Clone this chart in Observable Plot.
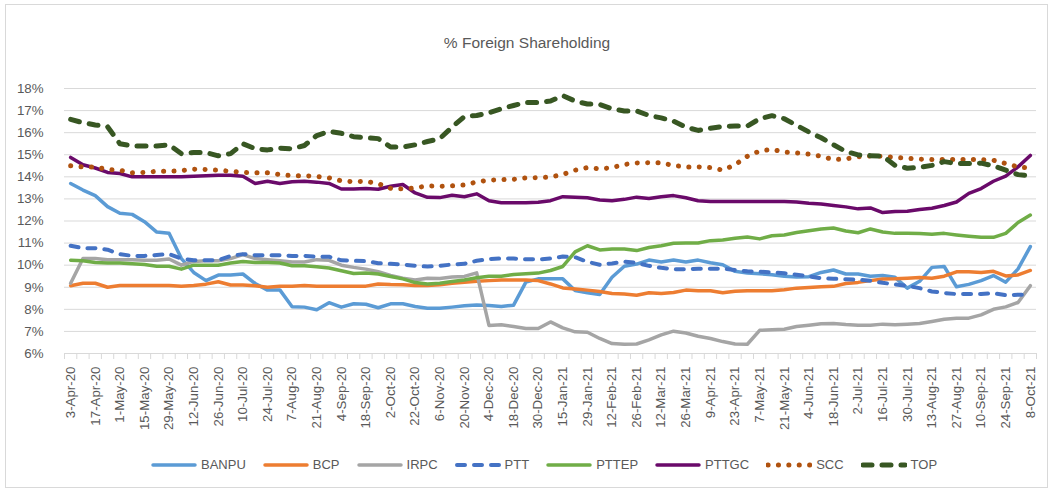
<!DOCTYPE html>
<html><head><meta charset="utf-8">
<script src="https://cdn.jsdelivr.net/npm/d3@7"></script>
<script src="https://cdn.jsdelivr.net/npm/@observablehq/plot@0.6"></script>
<style>
body{margin:0;background:#fff;}
#chart{position:relative;width:1054px;height:492px;font-family:"Liberation Sans",Arial,sans-serif;color:#595959;overflow:hidden;}
#frame{position:absolute;left:5px;top:4px;width:1043px;height:484px;border:1px solid #d9d9d9;box-sizing:border-box;}
#title{position:absolute;left:0;width:1054px;top:33px;text-align:center;font-size:15.5px;line-height:20px;}
#plot{position:absolute;left:0;top:70px;}
#legend{position:absolute;top:456px;left:151px;display:flex;align-items:center;font-size:13px;line-height:18px;}
.item{display:flex;align-items:center;margin-right:17px;}
.item svg{margin-right:4px;display:block;}
</style></head>
<body>
<div id="chart">
  <div id="frame"></div>
  <div id="title">% Foreign Shareholding</div>
  <div id="plot"></div>
  <div id="legend"></div>
</div>
<script>
const dates = ["3-Apr-20","10-Apr-20","17-Apr-20","24-Apr-20","1-May-20","8-May-20","15-May-20","22-May-20","29-May-20","5-Jun-20",
"12-Jun-20","19-Jun-20","26-Jun-20","3-Jul-20","10-Jul-20","17-Jul-20","24-Jul-20","31-Jul-20","7-Aug-20","14-Aug-20",
"21-Aug-20","28-Aug-20","4-Sep-20","11-Sep-20","18-Sep-20","25-Sep-20","2-Oct-20","16-Oct-20","22-Oct-20","30-Oct-20",
"6-Nov-20","13-Nov-20","20-Nov-20","27-Nov-20","4-Dec-20","11-Dec-20","18-Dec-20","25-Dec-20","30-Dec-20","8-Jan-21",
"15-Jan-21","22-Jan-21","29-Jan-21","5-Feb-21","12-Feb-21","19-Feb-21","26-Feb-21","5-Mar-21","12-Mar-21","19-Mar-21",
"26-Mar-21","2-Apr-21","9-Apr-21","16-Apr-21","23-Apr-21","30-Apr-21","7-May-21","14-May-21","21-May-21","28-May-21",
"4-Jun-21","11-Jun-21","18-Jun-21","25-Jun-21","2-Jul-21","9-Jul-21","16-Jul-21","23-Jul-21","30-Jul-21","6-Aug-21",
"13-Aug-21","20-Aug-21","27-Aug-21","3-Sep-21","10-Sep-21","17-Sep-21","24-Sep-21","1-Oct-21","8-Oct-21"];

const yTicks = [6,7,8,9,10,11,12,13,14,15,16,17,18];

const BANPU = [13.7,13.4,13.15,12.65,12.35,12.3,11.97,11.5,11.45,10.3,9.67,9.3,9.55,9.55,9.6,9.17,8.87,8.88,8.12,8.1,
7.98,8.3,8.1,8.25,8.23,8.07,8.25,8.25,8.13,8.05,8.05,8.1,8.16,8.2,8.17,8.13,8.19,9.23,9.38,9.38,
9.38,8.85,8.75,8.67,9.45,9.95,10.05,10.23,10.14,10.23,10.14,10.23,10.11,10.02,9.72,9.64,9.61,9.57,9.5,9.46,
9.48,9.67,9.78,9.6,9.6,9.5,9.53,9.45,8.96,9.27,9.9,9.94,9.02,9.13,9.3,9.53,9.23,9.83,10.84];
const BCP = [9.07,9.18,9.18,9.0,9.08,9.08,9.08,9.08,9.08,9.04,9.08,9.14,9.25,9.1,9.1,9.07,9.0,9.04,9.04,9.08,
9.04,9.04,9.04,9.04,9.05,9.15,9.12,9.11,9.08,9.08,9.11,9.18,9.23,9.27,9.3,9.33,9.33,9.33,9.3,9.15,
8.97,8.92,8.87,8.81,8.72,8.69,8.64,8.75,8.72,8.76,8.87,8.84,8.84,8.75,8.82,8.84,8.84,8.84,8.89,8.96,
8.99,9.02,9.04,9.17,9.22,9.3,9.37,9.38,9.41,9.44,9.41,9.5,9.7,9.7,9.67,9.72,9.51,9.56,9.76];
const IRPC = [9.18,10.3,10.3,10.25,10.25,10.25,10.22,10.22,10.28,10.0,10.17,10.2,10.2,10.3,10.48,10.3,10.25,10.2,10.14,10.14,
10.25,10.22,10.0,9.9,9.82,9.7,9.53,9.41,9.33,9.41,9.4,9.46,9.49,9.65,7.27,7.3,7.22,7.13,7.13,7.43,
7.16,6.98,6.96,6.68,6.45,6.42,6.43,6.62,6.84,7.01,6.93,6.78,6.68,6.54,6.43,6.42,7.05,7.07,7.1,7.22,
7.28,7.35,7.36,7.31,7.28,7.28,7.33,7.3,7.33,7.36,7.45,7.55,7.6,7.6,7.75,8.0,8.11,8.31,9.07];
const PTT = [10.88,10.77,10.77,10.7,10.5,10.42,10.42,10.46,10.5,10.3,10.22,10.22,10.22,10.42,10.5,10.45,10.45,10.45,10.42,10.42,
10.38,10.38,10.22,10.2,10.18,10.09,10.06,10.03,9.97,9.94,9.97,10.03,10.06,10.2,10.28,10.3,10.3,10.27,10.26,10.3,
10.39,10.36,10.15,10.02,10.08,10.16,10.1,9.97,9.88,9.82,9.82,9.84,9.84,9.84,9.78,9.72,9.71,9.67,9.63,9.57,
9.49,9.41,9.39,9.36,9.34,9.29,9.2,9.13,9.06,8.96,8.81,8.74,8.69,8.69,8.69,8.73,8.64,8.66,8.67];
const PTTEP = [10.22,10.2,10.12,10.1,10.1,10.06,10.03,9.95,9.95,9.82,10.0,10.0,10.0,10.1,10.17,10.12,10.12,10.1,9.97,9.97,
9.93,9.87,9.75,9.62,9.64,9.6,9.49,9.38,9.21,9.15,9.18,9.26,9.33,9.43,9.5,9.5,9.58,9.61,9.64,9.76,
9.94,10.6,10.88,10.69,10.73,10.73,10.66,10.8,10.88,10.99,11.0,11.0,11.11,11.14,11.22,11.28,11.19,11.33,11.37,11.48,
11.56,11.64,11.68,11.55,11.47,11.64,11.5,11.44,11.44,11.43,11.4,11.44,11.37,11.31,11.26,11.26,11.44,11.93,12.27];
const PTTGC = [14.88,14.55,14.4,14.2,14.15,14.0,14.0,14.0,14.0,14.0,14.03,14.05,14.07,14.07,14.03,13.7,13.8,13.7,13.78,13.8,
13.76,13.7,13.45,13.45,13.47,13.44,13.57,13.65,13.27,13.07,13.06,13.17,13.1,13.23,12.92,12.83,12.83,12.83,12.85,12.92,
13.1,13.07,13.05,12.95,12.92,12.98,13.08,13.02,13.1,13.15,13.05,12.92,12.88,12.88,12.88,12.88,12.88,12.88,12.88,12.86,
12.8,12.77,12.7,12.64,12.55,12.59,12.38,12.43,12.44,12.52,12.58,12.7,12.86,13.25,13.47,13.8,14.03,14.45,14.97];
const SCC = [14.5,14.45,14.45,14.33,14.3,14.18,14.2,14.25,14.25,14.28,14.35,14.33,14.3,14.25,14.2,14.18,14.18,14.1,14.05,14.05,
14.02,13.95,13.82,13.78,13.8,13.69,13.48,13.45,13.5,13.59,13.57,13.59,13.63,13.77,13.85,13.87,13.89,13.95,13.96,13.99,
14.11,14.3,14.42,14.36,14.42,14.56,14.63,14.64,14.64,14.51,14.45,14.45,14.42,14.3,14.55,14.93,15.17,15.24,15.12,15.08,
15.03,14.93,14.78,14.81,14.91,14.94,14.93,14.88,14.84,14.8,14.78,14.78,14.78,14.78,14.78,14.75,14.6,14.45,14.4];
const TOP = [16.6,16.45,16.35,16.27,15.5,15.4,15.4,15.4,15.45,15.05,15.1,15.1,14.95,15.05,15.5,15.27,15.22,15.3,15.27,15.42,
15.87,16.06,15.97,15.82,15.77,15.73,15.35,15.35,15.45,15.6,15.73,16.25,16.73,16.78,16.9,17.08,17.23,17.37,17.37,17.43,
17.68,17.43,17.3,17.28,17.08,16.98,16.98,16.78,16.67,16.52,16.25,16.1,16.2,16.28,16.3,16.3,16.63,16.77,16.63,16.33,
16.03,15.77,15.45,15.15,14.99,14.96,14.94,14.52,14.39,14.43,14.52,14.69,14.6,14.6,14.62,14.5,14.3,14.1,14.05];

const seriesNames = ["BANPU","BCP","IRPC","PTT","PTTEP","PTTGC","SCC","TOP"];
const seriesValues = [BANPU,BCP,IRPC,PTT,PTTEP,PTTGC,SCC,TOP];
const styles = {
  BANPU:{stroke:"#5B9BD5",strokeWidth:3.5},
  BCP:{stroke:"#ED7D31",strokeWidth:3.5},
  IRPC:{stroke:"#A5A5A5",strokeWidth:3.5},
  PTT:{stroke:"#4472C4",strokeWidth:4,strokeDasharray:"8,9"},
  PTTEP:{stroke:"#70AD47",strokeWidth:3.5},
  PTTGC:{stroke:"#6A0A6A",strokeWidth:3.5},
  SCC:{stroke:"#B0520F",strokeWidth:5,strokeDasharray:"0.1,10.3"},
  TOP:{stroke:"#385723",strokeWidth:5,strokeDasharray:"9,10"}
};

const font = '"Liberation Sans",Arial,sans-serif';
const lineMarks = seriesNames.map((name, s) => {
  const data = seriesValues[s].map((v, i) => ({i, v}));
  return Plot.line(data, {x:"i", y:"v", strokeLinecap:"round", strokeLinejoin:"round", ...styles[name]});
});

const chart = Plot.plot({
  width:1054, height:380,
  marginLeft:64, marginRight:18, marginTop:18, marginBottom:97,
  x:{type:"linear", domain:[-0.5, dates.length - 0.5], axis:null, label:null},
  y:{domain:[6,18], axis:null, label:null},
  style:{fontFamily:font, fontSize:"13.3px", color:"#595959", background:"transparent", overflow:"visible"},
  marks:[
    Plot.gridY(yTicks, {stroke:"#d9d9d9", strokeOpacity:1, strokeWidth:1}),
    Plot.axisY(yTicks, {tickSize:0, tickPadding:21, tickFormat:d => d + "%", fill:"#595959", fontSize:13.3, label:null}),
    Plot.axisX(d3.range(-0.5, dates.length, 1), {tickSize:6, stroke:"#d9d9d9", strokeOpacity:1, tickFormat:() => "", label:null}),
    Plot.axisX(d3.range(0, dates.length, 2), {tickSize:0, tickPadding:13, tickRotate:-90, tickFormat:i => dates[i], fill:"#595959", fontSize:13.3, label:null}),
    ...lineMarks
  ]
});
document.getElementById("plot").appendChild(chart);

const legend = document.getElementById("legend");
seriesNames.forEach(name => {
  const st = styles[name];
  const item = document.createElement("div");
  item.className = "item";
  item.innerHTML = `<svg width="46" height="10"><line x1="2" x2="44" y1="5" y2="5" stroke="${st.stroke}" stroke-width="${st.strokeWidth}" stroke-linecap="round" ${st.strokeDasharray ? `stroke-dasharray="${st.strokeDasharray}"` : ""}/></svg><span>${name}</span>`;
  legend.appendChild(item);
});
</script>
</body></html>
